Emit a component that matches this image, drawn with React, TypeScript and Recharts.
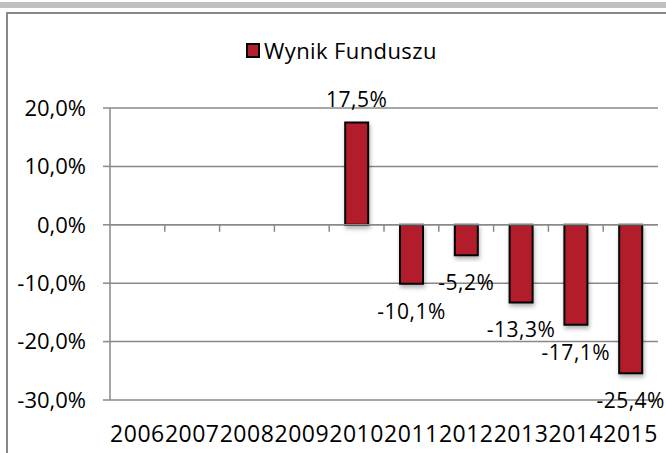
import React from "react";
import { BarChart, Bar, XAxis, YAxis, CartesianGrid, Legend, LabelList, ReferenceLine } from "recharts";

const years = ["2006", "2007", "2008", "2009", "2010", "2011", "2012", "2013", "2014", "2015"];
const wynik: (number | null)[] = [null, null, null, null, 17.5, -10.1, -5.2, -13.3, -17.1, -25.4];
const yTicks = [-30, -20, -10, 0, 10, 20];

const data = years.map((y, i) => ({ year: y, wynik: wynik[i] }));

const FONT = "'Open Sans', 'Noto Sans', sans-serif";
const RED = "#b31f2a";
const GRID = "#898989";

const pct = (v: number) => v.toFixed(1).replace(".", ",") + "%";

function ValueLabel(props: any) {
  const { x, y, width, height, value } = props;
  if (value == null) return null;
  const top = Math.min(y, y + height);
  const bottom = Math.max(y, y + height);
  const cy = value >= 0 ? top - 24 : bottom + 27;
  return (
    <text x={x + width / 2} y={cy} textAnchor="middle" dominantBaseline="central"
      fontFamily={FONT} fontSize={21} letterSpacing={0.5} fill="#000">
      {pct(value)}
    </text>
  );
}

// zero line with Excel-style tick marks between categories
function ZeroLine(props: any) {
  const { x1, x2, y1 } = props;
  const step = (x2 - x1) / years.length;
  const marks = [];
  for (let i = 1; i < years.length; i++) {
    const tx = x1 + step * i;
    marks.push(<line key={i} x1={tx} x2={tx} y1={y1} y2={y1 + 7} stroke={GRID} strokeWidth={1.5} />);
  }
  return (
    <g>
      <line x1={x1} x2={x2} y1={y1} y2={y1} stroke={GRID} strokeWidth={1.5} />
      {marks}
    </g>
  );
}

function LegendBox() {
  return (
    <div style={{ display: "flex", alignItems: "center", fontFamily: FONT, fontSize: 22, letterSpacing: 0.4, color: "#000", whiteSpace: "nowrap" }}>
      <span style={{ display: "inline-block", width: 10, height: 11, background: RED, border: "2px solid #000", marginRight: 4 }} />
      <span>Wynik Funduszu</span>
    </div>
  );
}

export default function App() {
  return (
    <div style={{ position: "absolute", left: 0, top: 0, width: 666, height: 453, background: "#fff", overflow: "hidden" }}>
      <div style={{ position: "absolute", left: 0, top: 0 }}>
        <BarChart width={666} height={453} data={data} margin={{ top: 108, right: 8, bottom: 13, left: 0 }} barSize={23}>
          <defs>
            <filter id="shadow" x="-30%" y="-10%" width="160%" height="130%">
              <feDropShadow dx={1} dy={3} stdDeviation={2} floodColor="#000" floodOpacity={0.3} />
            </filter>
          </defs>
          <CartesianGrid vertical={false} stroke={GRID} strokeWidth={1.5} />
          <Legend verticalAlign="middle" align="center" content={<LegendBox />}
            wrapperStyle={{ position: "absolute", top: 35, left: 246, width: "auto" }} />
          <XAxis dataKey="year" interval={0} axisLine={false} tickLine={false} height={40} tickMargin={20}
            tick={{ fontFamily: FONT, fontSize: 23, fill: "#000", letterSpacing: 0.5 }} />
          <YAxis domain={[-30, 20]} ticks={yTicks} width={110} tickFormatter={pct}
            axisLine={{ stroke: GRID, strokeWidth: 1.5 }} tickLine={{ stroke: GRID, strokeWidth: 1.5 }}
            tickSize={7} tickMargin={17} tick={{ fontFamily: FONT, fontSize: 22, fill: "#000" }} />
          <ReferenceLine y={0} shape={<ZeroLine />} />
          <Bar dataKey="wynik" fill={RED} stroke="#000" strokeWidth={2} isAnimationActive={false}
            style={{ filter: "url(#shadow)" }}>
            <LabelList dataKey="wynik" content={<ValueLabel />} />
          </Bar>
        </BarChart>
      </div>
      <div style={{ position: "absolute", left: 0, top: 2, width: 666, height: 6, background: "#c0c0c0", pointerEvents: "none" }} />
      <div style={{ position: "absolute", left: 6, top: 12, width: 700, height: 500, border: "2px solid #888", boxSizing: "border-box", pointerEvents: "none" }} />
    </div>
  );
}
